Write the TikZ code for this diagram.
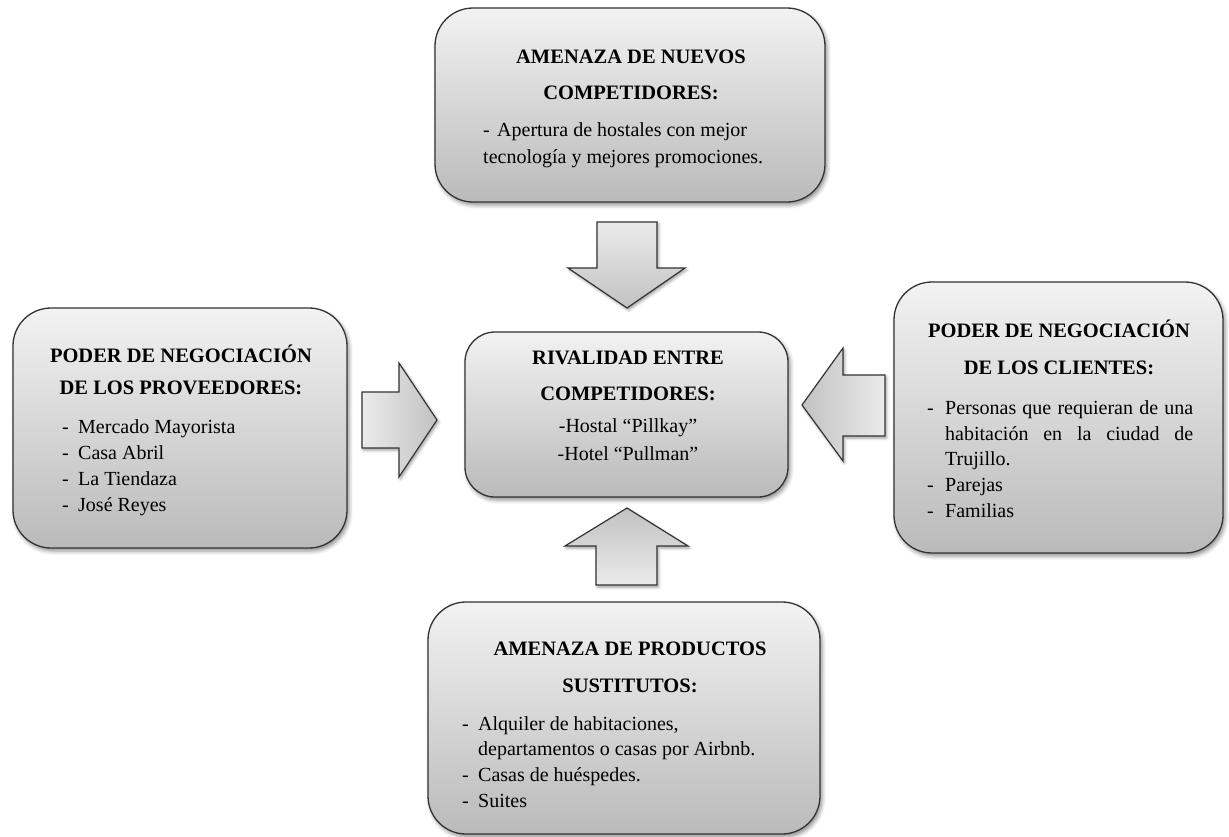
\documentclass[tikz,border=0pt]{standalone}
\usepackage{fontspec}
\setmainfont{Liberation Serif}
\usetikzlibrary{shadows.blur}
\begin{document}
\begin{tikzpicture}[x=1pt,y=-1pt,
  box/.style={draw=black!80, line width=1.3pt, rounded corners=38pt,
    top color=black!5, bottom color=black!27, minimum width=#1,
    blur shadow={shadow xshift=2pt, shadow yshift=-3pt, shadow blur radius=4pt, shadow opacity=45}},
  blockarrow/.style={draw=black!80, line width=1.2pt, line join=miter,
    blur shadow={shadow xshift=1.5pt, shadow yshift=-2pt, shadow blur radius=3pt, shadow opacity=40}},
  ttl/.style={anchor=base, inner sep=0pt, font=\fontsize{20.5}{24}\selectfont\bfseries},
  txt/.style={anchor=base west, inner sep=0pt, font=\fontsize{20}{24}\selectfont},
  ctxt/.style={anchor=base, inner sep=0pt, font=\fontsize{20}{24}\selectfont},
]
\useasboundingbox (0,0) rectangle (1229,836);
% boxes
\node[box=390pt, minimum height=194pt] (top) at (630,105) {};
\node[box=334pt, minimum height=240pt] (left) at (180,428) {};
\node[box=323pt, minimum height=165pt, rounded corners=30pt] (center) at (626.5,414.5) {};
\node[box=329pt, minimum height=271pt] (right) at (1058.5,417.5) {};
\node[box=392pt, minimum height=232pt] (bottom) at (624,718) {};

% block arrows
\path[blockarrow, left color=black!8, right color=black!24]
  (362,392) -- (399,392) -- (399,363) -- (437,420) -- (399,477) -- (399,448) -- (362,448) -- cycle;
\path[blockarrow, top color=black!8, bottom color=black!24]
  (597,222) -- (657,222) -- (657,268) -- (685,268) -- (627,308) -- (568,268) -- (597,268) -- cycle;
\path[blockarrow, right color=black!8, left color=black!24]
  (885,375) -- (843,375) -- (843,348) -- (802,405) -- (843,461) -- (843,436) -- (885,436) -- cycle;
\path[blockarrow, bottom color=black!8, top color=black!24]
  (596,585) -- (596,546) -- (565,546) -- (627,508) -- (688,546) -- (657,546) -- (657,585) -- cycle;

% top box text
\node[ttl] (t1) at (631,63) {AMENAZA DE NUEVOS};
\node[ttl] (t2) at (631,99) {COMPETIDORES:};
\node[txt] (t3d) at (483,136) {-};
\node[txt] (t3) at (497,136) {Apertura de hostales con mejor};
\node[txt] (t4) at (483,163) {tecnología y mejores promociones.};

% left box text
\node[ttl] (l1) at (181,362) {PODER DE NEGOCIACIÓN};
\node[ttl] (l2) at (181,394) {DE LOS PROVEEDORES:};
\node[txt] (l3d) at (62,433) {-};
\node[txt] (l3) at (78,433) {Mercado Mayorista};
\node[txt] (l4d) at (62,459) {-};
\node[txt] (l4) at (78,459) {Casa Abril};
\node[txt] (l5d) at (62,485) {-};
\node[txt] (l5) at (78,485) {La Tiendaza};
\node[txt] (l6d) at (62,511) {-};
\node[txt] (l6) at (78,511) {José Reyes};

% center box text
\node[ttl] (c1) at (628,364) {RIVALIDAD ENTRE};
\node[ttl] (c2) at (628,400) {COMPETIDORES:};
\node[ctxt] (c3) at (628,432) {-Hostal “Pillkay”};
\node[ctxt] (c4) at (628,460) {-Hotel “Pullman”};

% right box text
\node[ttl] (r1) at (1059,337) {PODER DE NEGOCIACIÓN};
\node[ttl] (r2) at (1059,374) {DE LOS CLIENTES:};
\node[txt] (r3d) at (927,414) {-};
\node[txt] (r3) at (945,414) {\makebox[248pt][s]{Personas que requieran de una}};
\node[txt] (r4) at (945,440) {\makebox[248pt][s]{habitación en la ciudad de}};
\node[txt] (r5) at (945,465) {Trujillo.};
\node[txt] (r6d) at (927,491) {-};
\node[txt] (r6) at (945,491) {Parejas};
\node[txt] (r7d) at (927,517) {-};
\node[txt] (r7) at (945,517) {Familias};

% bottom box text
\node[ttl] (b1) at (630,655) {AMENAZA DE PRODUCTOS};
\node[ttl] (b2) at (630,692) {SUSTITUTOS:};
\node[txt] (b3d) at (462,730) {-};
\node[txt] (b3) at (478,730) {Alquiler de habitaciones,};
\node[txt] (b4) at (478,755) {departamentos o casas por Airbnb.};
\node[txt] (b5d) at (462,781) {-};
\node[txt] (b5) at (478,781) {Casas de huéspedes.};
\node[txt] (b6d) at (462,807) {-};
\node[txt] (b6) at (478,807) {Suites};
\end{tikzpicture}
\end{document}
